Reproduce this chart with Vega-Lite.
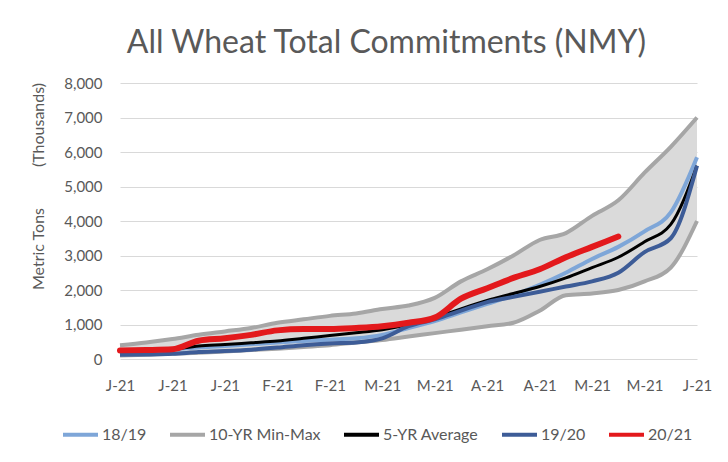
{
  "$schema": "https://vega.github.io/schema/vega-lite/v6.json",
  "autosize": "none",
  "width": 577,
  "height": 276,
  "padding": {"left": 120, "top": 83, "right": 31, "bottom": 103},
  "background": "white",
  "title": {
    "text": "All Wheat Total Commitments (NMY)",
    "font": "Lato",
    "fontSize": 32,
    "fontWeight": "normal",
    "color": "#595959",
    "anchor": "middle",
    "frame": "group",
    "dx": -22,
    "offset": 16
  },
  "config": {
    "view": {"stroke": null},
    "axis": {
      "labelFont": "Lato",
      "labelColor": "#595959",
      "titleFont": "Lato",
      "titleColor": "#595959",
      "gridColor": "#d9d9d9",
      "gridWidth": 1,
      "ticks": false,
      "domain": false
    }
  },
  "data": {
    "values": [
      {"date": "2021/01/01", "series": "18/19", "bound": "", "value": 200},
      {"date": "2021/01/08", "series": "18/19", "bound": "", "value": 230},
      {"date": "2021/01/15", "series": "18/19", "bound": "", "value": 280},
      {"date": "2021/01/22", "series": "18/19", "bound": "", "value": 330},
      {"date": "2021/01/29", "series": "18/19", "bound": "", "value": 380},
      {"date": "2021/02/05", "series": "18/19", "bound": "", "value": 430},
      {"date": "2021/02/12", "series": "18/19", "bound": "", "value": 480},
      {"date": "2021/02/19", "series": "18/19", "bound": "", "value": 520},
      {"date": "2021/02/26", "series": "18/19", "bound": "", "value": 560},
      {"date": "2021/03/05", "series": "18/19", "bound": "", "value": 600},
      {"date": "2021/03/12", "series": "18/19", "bound": "", "value": 700},
      {"date": "2021/03/19", "series": "18/19", "bound": "", "value": 900},
      {"date": "2021/03/26", "series": "18/19", "bound": "", "value": 1100},
      {"date": "2021/04/02", "series": "18/19", "bound": "", "value": 1350},
      {"date": "2021/04/09", "series": "18/19", "bound": "", "value": 1600},
      {"date": "2021/04/16", "series": "18/19", "bound": "", "value": 1850},
      {"date": "2021/04/23", "series": "18/19", "bound": "", "value": 2150},
      {"date": "2021/04/30", "series": "18/19", "bound": "", "value": 2500},
      {"date": "2021/05/07", "series": "18/19", "bound": "", "value": 2900},
      {"date": "2021/05/14", "series": "18/19", "bound": "", "value": 3250},
      {"date": "2021/05/21", "series": "18/19", "bound": "", "value": 3700},
      {"date": "2021/05/28", "series": "18/19", "bound": "", "value": 4250},
      {"date": "2021/06/04", "series": "18/19", "bound": "", "value": 5850},

      {"date": "2021/01/01", "series": "10-YR Min-Max", "bound": "max", "value": 400},
      {"date": "2021/01/08", "series": "10-YR Min-Max", "bound": "max", "value": 480},
      {"date": "2021/01/15", "series": "10-YR Min-Max", "bound": "max", "value": 580},
      {"date": "2021/01/22", "series": "10-YR Min-Max", "bound": "max", "value": 700},
      {"date": "2021/01/29", "series": "10-YR Min-Max", "bound": "max", "value": 800},
      {"date": "2021/02/05", "series": "10-YR Min-Max", "bound": "max", "value": 900},
      {"date": "2021/02/12", "series": "10-YR Min-Max", "bound": "max", "value": 1050},
      {"date": "2021/02/19", "series": "10-YR Min-Max", "bound": "max", "value": 1150},
      {"date": "2021/02/26", "series": "10-YR Min-Max", "bound": "max", "value": 1250},
      {"date": "2021/03/05", "series": "10-YR Min-Max", "bound": "max", "value": 1320},
      {"date": "2021/03/12", "series": "10-YR Min-Max", "bound": "max", "value": 1450},
      {"date": "2021/03/19", "series": "10-YR Min-Max", "bound": "max", "value": 1550},
      {"date": "2021/03/26", "series": "10-YR Min-Max", "bound": "max", "value": 1770},
      {"date": "2021/04/02", "series": "10-YR Min-Max", "bound": "max", "value": 2250},
      {"date": "2021/04/09", "series": "10-YR Min-Max", "bound": "max", "value": 2600},
      {"date": "2021/04/16", "series": "10-YR Min-Max", "bound": "max", "value": 3000},
      {"date": "2021/04/23", "series": "10-YR Min-Max", "bound": "max", "value": 3450},
      {"date": "2021/04/30", "series": "10-YR Min-Max", "bound": "max", "value": 3650},
      {"date": "2021/05/07", "series": "10-YR Min-Max", "bound": "max", "value": 4150},
      {"date": "2021/05/14", "series": "10-YR Min-Max", "bound": "max", "value": 4600},
      {"date": "2021/05/21", "series": "10-YR Min-Max", "bound": "max", "value": 5400},
      {"date": "2021/05/28", "series": "10-YR Min-Max", "bound": "max", "value": 6150},
      {"date": "2021/06/04", "series": "10-YR Min-Max", "bound": "max", "value": 7000},

      {"date": "2021/01/01", "series": "10-YR Min-Max", "bound": "min", "value": 100},
      {"date": "2021/01/08", "series": "10-YR Min-Max", "bound": "min", "value": 120},
      {"date": "2021/01/15", "series": "10-YR Min-Max", "bound": "min", "value": 150},
      {"date": "2021/01/22", "series": "10-YR Min-Max", "bound": "min", "value": 180},
      {"date": "2021/01/29", "series": "10-YR Min-Max", "bound": "min", "value": 220},
      {"date": "2021/02/05", "series": "10-YR Min-Max", "bound": "min", "value": 260},
      {"date": "2021/02/12", "series": "10-YR Min-Max", "bound": "min", "value": 300},
      {"date": "2021/02/19", "series": "10-YR Min-Max", "bound": "min", "value": 350},
      {"date": "2021/02/26", "series": "10-YR Min-Max", "bound": "min", "value": 400},
      {"date": "2021/03/05", "series": "10-YR Min-Max", "bound": "min", "value": 480},
      {"date": "2021/03/12", "series": "10-YR Min-Max", "bound": "min", "value": 550},
      {"date": "2021/03/19", "series": "10-YR Min-Max", "bound": "min", "value": 650},
      {"date": "2021/03/26", "series": "10-YR Min-Max", "bound": "min", "value": 750},
      {"date": "2021/04/02", "series": "10-YR Min-Max", "bound": "min", "value": 850},
      {"date": "2021/04/09", "series": "10-YR Min-Max", "bound": "min", "value": 950},
      {"date": "2021/04/16", "series": "10-YR Min-Max", "bound": "min", "value": 1050},
      {"date": "2021/04/23", "series": "10-YR Min-Max", "bound": "min", "value": 1400},
      {"date": "2021/04/30", "series": "10-YR Min-Max", "bound": "min", "value": 1850},
      {"date": "2021/05/07", "series": "10-YR Min-Max", "bound": "min", "value": 1900},
      {"date": "2021/05/14", "series": "10-YR Min-Max", "bound": "min", "value": 2000},
      {"date": "2021/05/21", "series": "10-YR Min-Max", "bound": "min", "value": 2250},
      {"date": "2021/05/28", "series": "10-YR Min-Max", "bound": "min", "value": 2650},
      {"date": "2021/06/04", "series": "10-YR Min-Max", "bound": "min", "value": 4000},

      {"date": "2021/01/01", "series": "5-YR Average", "bound": "", "value": 180},
      {"date": "2021/01/08", "series": "5-YR Average", "bound": "", "value": 220},
      {"date": "2021/01/15", "series": "5-YR Average", "bound": "", "value": 280},
      {"date": "2021/01/22", "series": "5-YR Average", "bound": "", "value": 380},
      {"date": "2021/01/29", "series": "5-YR Average", "bound": "", "value": 420},
      {"date": "2021/02/05", "series": "5-YR Average", "bound": "", "value": 470},
      {"date": "2021/02/12", "series": "5-YR Average", "bound": "", "value": 520},
      {"date": "2021/02/19", "series": "5-YR Average", "bound": "", "value": 600},
      {"date": "2021/02/26", "series": "5-YR Average", "bound": "", "value": 680},
      {"date": "2021/03/05", "series": "5-YR Average", "bound": "", "value": 760},
      {"date": "2021/03/12", "series": "5-YR Average", "bound": "", "value": 850},
      {"date": "2021/03/19", "series": "5-YR Average", "bound": "", "value": 1000},
      {"date": "2021/03/26", "series": "5-YR Average", "bound": "", "value": 1200},
      {"date": "2021/04/02", "series": "5-YR Average", "bound": "", "value": 1450},
      {"date": "2021/04/09", "series": "5-YR Average", "bound": "", "value": 1700},
      {"date": "2021/04/16", "series": "5-YR Average", "bound": "", "value": 1900},
      {"date": "2021/04/23", "series": "5-YR Average", "bound": "", "value": 2100},
      {"date": "2021/04/30", "series": "5-YR Average", "bound": "", "value": 2350},
      {"date": "2021/05/07", "series": "5-YR Average", "bound": "", "value": 2650},
      {"date": "2021/05/14", "series": "5-YR Average", "bound": "", "value": 2950},
      {"date": "2021/05/21", "series": "5-YR Average", "bound": "", "value": 3400},
      {"date": "2021/05/28", "series": "5-YR Average", "bound": "", "value": 3900},
      {"date": "2021/06/04", "series": "5-YR Average", "bound": "", "value": 5600},

      {"date": "2021/01/01", "series": "19/20", "bound": "", "value": 120},
      {"date": "2021/01/08", "series": "19/20", "bound": "", "value": 130},
      {"date": "2021/01/15", "series": "19/20", "bound": "", "value": 150},
      {"date": "2021/01/22", "series": "19/20", "bound": "", "value": 200},
      {"date": "2021/01/29", "series": "19/20", "bound": "", "value": 230},
      {"date": "2021/02/05", "series": "19/20", "bound": "", "value": 270},
      {"date": "2021/02/12", "series": "19/20", "bound": "", "value": 330},
      {"date": "2021/02/19", "series": "19/20", "bound": "", "value": 400},
      {"date": "2021/02/26", "series": "19/20", "bound": "", "value": 450},
      {"date": "2021/03/05", "series": "19/20", "bound": "", "value": 480},
      {"date": "2021/03/12", "series": "19/20", "bound": "", "value": 600},
      {"date": "2021/03/19", "series": "19/20", "bound": "", "value": 950},
      {"date": "2021/03/26", "series": "19/20", "bound": "", "value": 1150},
      {"date": "2021/04/02", "series": "19/20", "bound": "", "value": 1400},
      {"date": "2021/04/09", "series": "19/20", "bound": "", "value": 1650},
      {"date": "2021/04/16", "series": "19/20", "bound": "", "value": 1800},
      {"date": "2021/04/23", "series": "19/20", "bound": "", "value": 1950},
      {"date": "2021/04/30", "series": "19/20", "bound": "", "value": 2100},
      {"date": "2021/05/07", "series": "19/20", "bound": "", "value": 2250},
      {"date": "2021/05/14", "series": "19/20", "bound": "", "value": 2500},
      {"date": "2021/05/21", "series": "19/20", "bound": "", "value": 3100},
      {"date": "2021/05/28", "series": "19/20", "bound": "", "value": 3500},
      {"date": "2021/06/04", "series": "19/20", "bound": "", "value": 5600},

      {"date": "2021/01/01", "series": "20/21", "bound": "", "value": 250},
      {"date": "2021/01/08", "series": "20/21", "bound": "", "value": 260},
      {"date": "2021/01/15", "series": "20/21", "bound": "", "value": 280},
      {"date": "2021/01/22", "series": "20/21", "bound": "", "value": 530},
      {"date": "2021/01/29", "series": "20/21", "bound": "", "value": 600},
      {"date": "2021/02/05", "series": "20/21", "bound": "", "value": 700},
      {"date": "2021/02/12", "series": "20/21", "bound": "", "value": 830},
      {"date": "2021/02/19", "series": "20/21", "bound": "", "value": 870},
      {"date": "2021/02/26", "series": "20/21", "bound": "", "value": 870},
      {"date": "2021/03/05", "series": "20/21", "bound": "", "value": 900},
      {"date": "2021/03/12", "series": "20/21", "bound": "", "value": 950},
      {"date": "2021/03/19", "series": "20/21", "bound": "", "value": 1050},
      {"date": "2021/03/26", "series": "20/21", "bound": "", "value": 1200},
      {"date": "2021/04/02", "series": "20/21", "bound": "", "value": 1750},
      {"date": "2021/04/09", "series": "20/21", "bound": "", "value": 2050},
      {"date": "2021/04/16", "series": "20/21", "bound": "", "value": 2350},
      {"date": "2021/04/23", "series": "20/21", "bound": "", "value": 2600},
      {"date": "2021/04/30", "series": "20/21", "bound": "", "value": 2950},
      {"date": "2021/05/07", "series": "20/21", "bound": "", "value": 3250},
      {"date": "2021/05/14", "series": "20/21", "bound": "", "value": 3550}
    ]
  },
  "encoding": {
    "x": {
      "field": "date",
      "type": "temporal",
      "scale": {"domain": [{"year": 2021, "month": 1, "date": 1}, {"year": 2021, "month": 6, "date": 4}]},
      "axis": {
        "title": null,
        "grid": false,
        "values": [
          {"year": 2021, "month": 1, "date": 1},
          {"year": 2021, "month": 1, "date": 15},
          {"year": 2021, "month": 1, "date": 29},
          {"year": 2021, "month": 2, "date": 12},
          {"year": 2021, "month": 2, "date": 26},
          {"year": 2021, "month": 3, "date": 12},
          {"year": 2021, "month": 3, "date": 26},
          {"year": 2021, "month": 4, "date": 9},
          {"year": 2021, "month": 4, "date": 23},
          {"year": 2021, "month": 5, "date": 7},
          {"year": 2021, "month": 5, "date": 21},
          {"year": 2021, "month": 6, "date": 4}
        ],
        "labelExpr": "substring(timeFormat(datum.value, '%b'), 0, 1) + timeFormat(datum.value, '-%y')",
        "labelFontSize": 15,
        "labelPadding": 19,
        "labelOverlap": false,
        "labelFlush": false
      }
    },
    "y": {
      "field": "value",
      "type": "quantitative",
      "scale": {"domain": [0, 8000]},
      "axis": {
        "title": "Metric Tons\u00a0\u00a0\u00a0\u00a0\u00a0\u00a0\u00a0\u00a0\u00a0\u00a0(Thousands)",
        "titleFontSize": 16,
        "titleFontWeight": "normal",
        "titleX": -82,
        "titleY": 103,
        "titleAlign": "center",
        "titleBaseline": "middle",
        "titleAngle": -90,
        "values": [0, 1000, 2000, 3000, 4000, 5000, 6000, 7000, 8000],
        "format": ",.0f",
        "labelFontSize": 15,
        "labelPadding": 18
      }
    },
    "color": {
      "field": "series",
      "type": "nominal",
      "scale": {
        "domain": ["18/19", "10-YR Min-Max", "5-YR Average", "19/20", "20/21"],
        "range": ["#7ea6d8", "#a6a6a6", "#000000", "#3d5c97", "#e3191c"]
      },
      "legend": {
        "title": null,
        "orient": "none",
        "direction": "horizontal",
        "legendX": -59,
        "legendY": 332,
        "symbolType": "stroke",
        "symbolSize": 1225,
        "symbolStrokeWidth": 4,
        "labelFont": "Lato",
        "labelFontSize": 16,
        "labelColor": "#595959",
        "labelOffset": 2,
        "columnPadding": 15
      }
    }
  },
  "layer": [
    {
      "transform": [
        {"filter": "datum.series === '10-YR Min-Max'"},
        {"aggregate": [{"op": "max", "field": "value", "as": "value"}, {"op": "min", "field": "value", "as": "lo"}], "groupby": ["date"]}
      ],
      "mark": {"type": "area", "color": "#dadada", "interpolate": "monotone"},
      "encoding": {
        "y2": {"field": "lo"},
        "color": {"value": "#dadada"}
      }
    },
    {
      "transform": [{"filter": "datum.series === '10-YR Min-Max'"}],
      "mark": {"type": "line", "strokeWidth": 4, "interpolate": "monotone"},
      "encoding": {
        "detail": {"field": "bound", "type": "nominal"}
      }
    },
    {
      "transform": [{"filter": "datum.series === '18/19'"}],
      "mark": {"type": "line", "strokeWidth": 4, "interpolate": "monotone"},
      "encoding": {}
    },
    {
      "transform": [{"filter": "datum.series === '5-YR Average'"}],
      "mark": {"type": "line", "strokeWidth": 3, "interpolate": "monotone"},
      "encoding": {}
    },
    {
      "transform": [{"filter": "datum.series === '19/20'"}],
      "mark": {"type": "line", "strokeWidth": 4, "interpolate": "monotone"},
      "encoding": {}
    },
    {
      "transform": [{"filter": "datum.series === '20/21'"}],
      "mark": {"type": "line", "strokeWidth": 6, "interpolate": "monotone", "strokeCap": "round"},
      "encoding": {}
    }
  ]
}
